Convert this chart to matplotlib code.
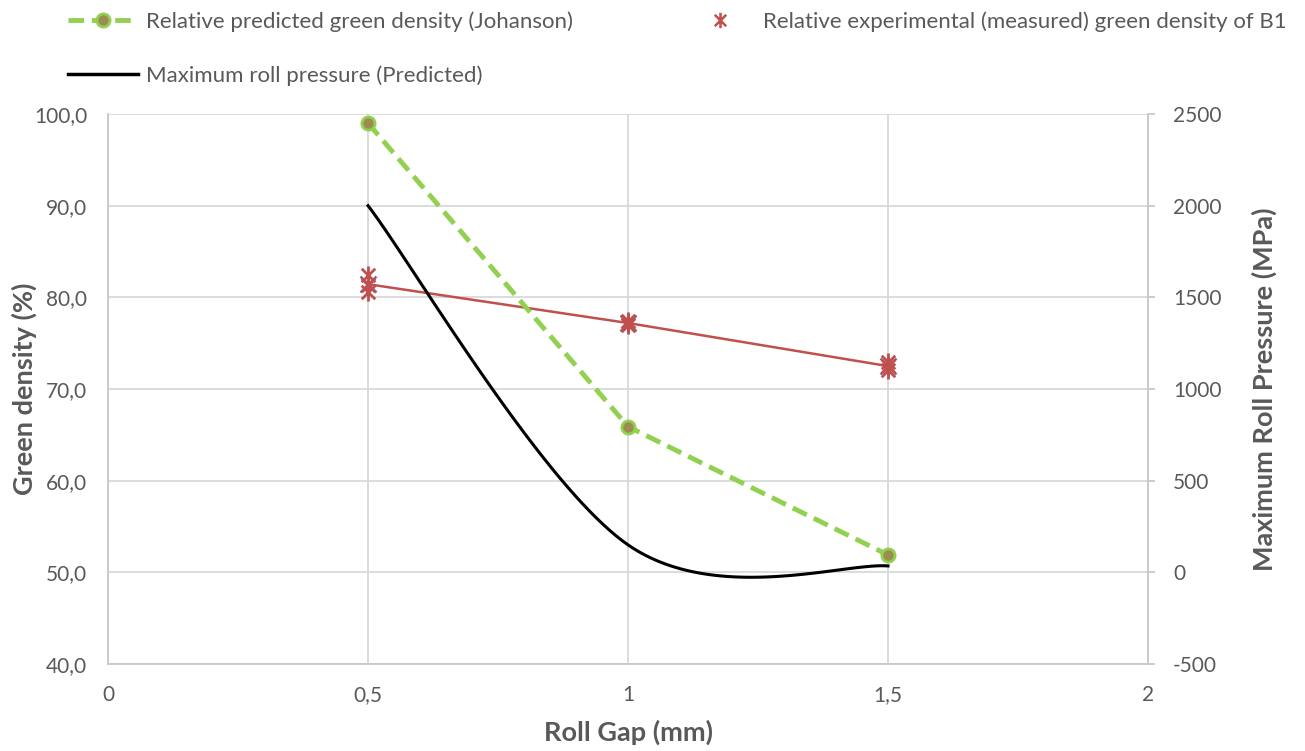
import numpy as np
import matplotlib
matplotlib.use("Agg")
import matplotlib.pyplot as plt
from matplotlib.path import Path
from matplotlib.lines import Line2D

plt.rcParams['font.family'] = ['Lato', 'DejaVu Sans']
plt.rcParams['axes.unicode_minus'] = False

# Roll gap values (mm)
gap = [0.5, 1.0, 1.5]
# Relative predicted green density (Johanson), %
pred_density = [99.0, 65.9, 51.9]
# Relative experimental green density of B1, individual measurements, %
exp_runs = [
    [82.4, 81.3, 80.6],
    [77.0, 77.2, 77.4],
    [72.1, 72.5, 72.9],
]
# Maximum roll pressure (predicted), MPa
max_pressure = [2000, 150, 35]

x_ticks = [0, 0.5, 1, 1.5, 2]
x_tick_labels = ["0", "0,5", "1", "1,5", "2"]
y_ticks = [40, 50, 60, 70, 80, 90, 100]
y_tick_labels = ["40,0", "50,0", "60,0", "70,0", "80,0", "90,0", "100,0"]
y2_ticks = [-500, 0, 500, 1000, 1500, 2000, 2500]

TXT = "#595959"
GRID = "#D9D9D9"
SPINE = "#C8C8C8"


def smooth_curve(xs, ys, n=60):
    """Cubic Bezier smoothing through the points (tension 1/6 of neighbour span)."""
    pts = np.column_stack([xs, ys]).astype(float)
    out = []
    for i in range(len(pts) - 1):
        p0 = pts[i - 1] if i > 0 else pts[i]
        p1 = pts[i]
        p2 = pts[i + 1]
        p3 = pts[i + 2] if i + 2 < len(pts) else pts[i + 1]
        c1 = p1 + (p2 - p0) / 6.0
        c2 = p2 - (p3 - p1) / 6.0
        t = np.linspace(0, 1, n)[:, None]
        seg = ((1 - t) ** 3) * p1 + 3 * ((1 - t) ** 2) * t * c1 + 3 * (1 - t) * t ** 2 * c2 + t ** 3 * p2
        out.append(seg if i == 0 else seg[1:])
    out = np.vstack(out)
    return out[:, 0], out[:, 1]


# asterisk marker: vertical bar plus a diagonal cross
star = Path(
    [(0, -1), (0, 1), (-0.75, -0.75), (0.75, 0.75), (-0.75, 0.75), (0.75, -0.75)],
    [Path.MOVETO, Path.LINETO, Path.MOVETO, Path.LINETO, Path.MOVETO, Path.LINETO],
)

fig = plt.figure(figsize=(13.05, 7.51), dpi=100)
ax = fig.add_axes([0.0828, 0.1158, 0.7969, 0.7324])
ax2 = ax.twinx()

ax.set_xlim(0, 2)
ax.set_ylim(40, 100)
ax2.set_ylim(-500, 2500)

ax.set_xticks(x_ticks)
ax.set_xticklabels(x_tick_labels)
ax.set_yticks(y_ticks)
ax.set_yticklabels(y_tick_labels)
ax2.set_yticks(y2_ticks)

ax.tick_params(length=0, labelsize=15, colors=TXT)
ax.tick_params(axis="y", pad=15)
ax.tick_params(axis="x", pad=15)
ax2.tick_params(axis="y", length=5, width=1.3, color=SPINE, direction="out",
                labelsize=15, labelcolor=TXT, pad=13)
for s in ax2.spines.values():
    s.set_visible(False)

ax.grid(True, color=GRID, linewidth=1.3)
ax.set_axisbelow(True)
for side, sp in ax.spines.items():
    sp.set_visible(side != "top")
    sp.set_color(SPINE)
    sp.set_linewidth(1.3)

# experimental means and measurements
means = [float(np.mean(r)) for r in exp_runs]
ax.plot(gap, means, color="#C0504D", linewidth=1.8, zorder=3)
ax.plot(gap, means, linestyle="none", marker="x", markersize=12,
        markeredgewidth=1.8, color="#8064A2", zorder=4)
for g, runs in zip(gap, exp_runs):
    ax.plot([g] * len(runs), runs, linestyle="none", marker=star, markersize=13,
            markeredgewidth=2.0, color="#C0504D", zorder=5)

# predicted density
ax.plot(gap, pred_density, color="#92D050", linestyle=(0, (3.2, 1.6)), linewidth=3.5,
        marker="o", markersize=9.5, markerfacecolor="#9C8C50",
        markeredgecolor="#92D050", markeredgewidth=2.0, zorder=6)

# predicted pressure, smoothed
sx, sy = smooth_curve(gap, max_pressure)
ax2.plot(sx, sy, color="black", linewidth=2.2, zorder=6)

ax.set_xlabel("Roll Gap (mm)", fontsize=19.5, fontweight="bold", color=TXT, labelpad=11)
ax.set_ylabel("Green density (%)", fontsize=19.5, fontweight="bold", color=TXT, labelpad=-2)
ax2.set_ylabel("Maximum Roll Pressure (MPa)", fontsize=19.5, fontweight="bold", color=TXT, labelpad=22)

handles = [
    Line2D([], [], color="#92D050", linestyle=(0, (3.2, 1.6)), linewidth=3.5, marker="o",
           markersize=9.5, markerfacecolor="#9C8C50", markeredgecolor="#92D050", markeredgewidth=2.0),
    Line2D([], [], color="black", linewidth=2.5),
    Line2D([], [], linestyle="none", marker=star, markersize=11, markeredgewidth=1.8, color="#C0504D"),
]
labels = [
    "Relative predicted green density (Johanson)",
    "Maximum roll pressure (Predicted)",
    "Relative experimental (measured) green density of B1",
]
fig.legend(handles, labels, loc="upper left", bbox_to_anchor=(0.037, 1.012), ncol=2,
           frameon=False, fontsize=16, labelcolor=TXT, handlelength=3.15,
           columnspacing=5.05, labelspacing=1.5, handletextpad=0.35)

fig.savefig("out.png", dpi=100)
